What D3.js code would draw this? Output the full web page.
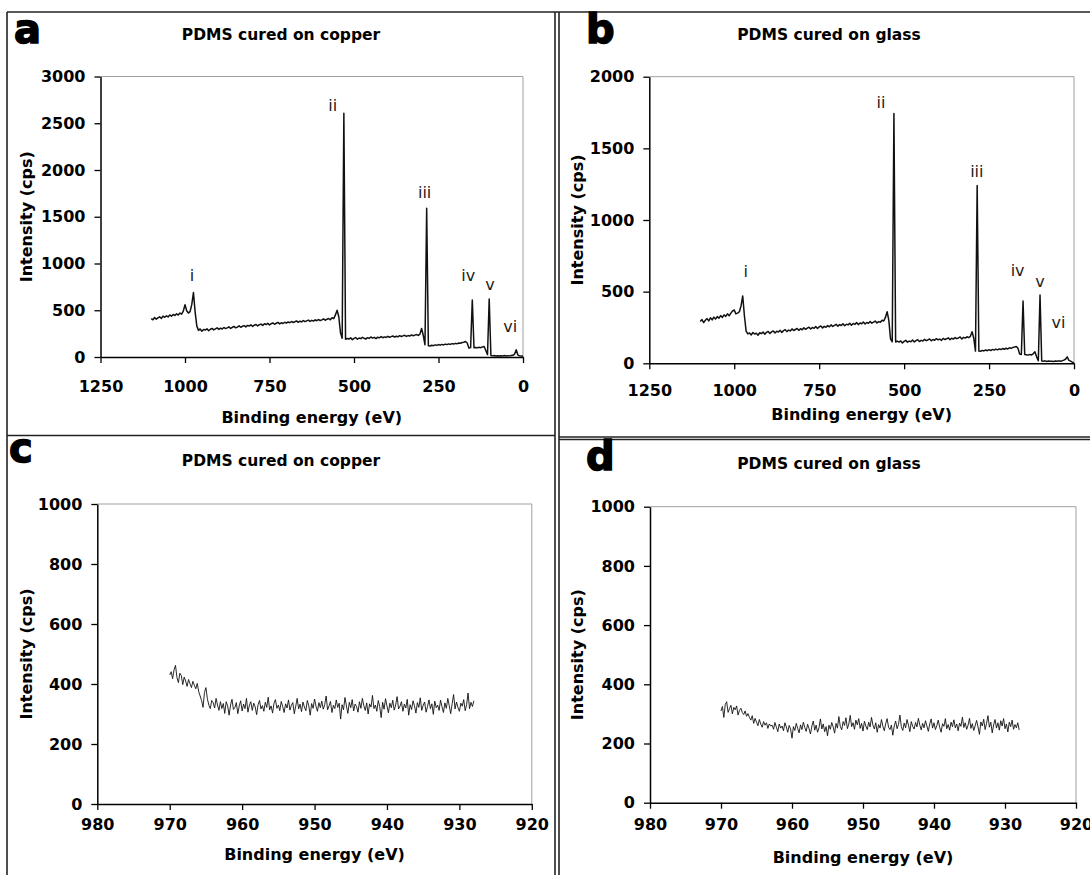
<!DOCTYPE html>
<html>
<head>
<meta charset="utf-8">
<script src="https://cdn.jsdelivr.net/npm/d3@7"></script>
<style>
body { margin: 0; background: #fff; }
text { font-family: "DejaVu Sans", Verdana, sans-serif; }
</style>
</head>
<body>
<div id="chart"></div>
<script>
// survey scans, 1100 eV down to 0 eV, one reading every 5 eV
var survey_start = 1100, survey_step = 5;
var copper_survey = [
  410, 398, 422, 405, 418, 430, 412, 437, 425, 441, 428, 450, 436, 455, 444, 462, 449, 470, 458,
  490, 560, 495, 470, 485, 560, 690, 480, 330, 285,
  300, 276, 295, 288, 302, 281, 297, 306, 290, 301,
  312, 295, 308, 299, 316, 304, 311, 322, 305, 318,
  327, 312, 320, 333, 318, 329, 336, 322, 338, 331,
  344, 326, 340, 348, 333, 345, 352, 338, 355, 347,
  360, 343, 356, 364, 350, 361, 370, 354, 366, 358,
  372, 362, 375, 366, 380, 369, 377, 386, 371, 383,
  375, 390, 378, 387, 395, 381, 392, 384, 398, 388,
  401, 390, 397, 408, 393, 404, 412, 398,
  420, 410, 450, 500, 430, 260, 200, 2606, 190, 198,
  192, 205, 186, 199, 208, 190, 203, 196, 211, 200,
  192, 207, 199, 214, 203, 210, 197, 212, 205, 218,
  206, 215, 209, 221, 211, 218, 225, 213, 222, 216,
  228, 219, 226, 232, 220, 229, 224, 236, 227, 234,
  240, 231, 245,
  305, 230, 130, 1590, 120,
  118, 126, 121, 130, 124, 133, 127, 135, 129, 138,
  132, 140, 135, 143, 138, 146, 141, 150, 147, 155, 158,
  165, 150, 95, 100, 610, 100,
  102, 98, 104, 100, 108, 112, 70, 25, 620, 15,
  12, 15, 11, 14, 10, 13, 12, 15, 11, 14, 12, 15, 18, 30,
  78, 20, 12, 10, 8
];
var glass_survey = [
  292, 305, 284, 300, 312, 296, 318, 303, 322, 309, 326, 315, 333, 320, 338, 327, 345, 332, 350,
  365, 372, 345, 350, 360, 400, 470, 330, 225, 205,
  212, 198, 215, 204, 210, 196, 213, 207, 218, 203,
  216, 222, 208, 219, 226, 212, 224, 218, 230, 215,
  228, 235, 221, 232, 226, 240, 229, 236, 243, 230,
  241, 234, 248, 237, 245, 252, 239, 250, 244, 256,
  243, 254, 260, 247, 258, 251, 263, 255, 268, 257,
  265, 272, 259, 270, 264, 276, 262, 273, 268, 280,
  266, 278, 271, 284, 270, 281, 276, 288, 274, 285,
  279, 292, 280, 287, 295, 282, 291, 286,
  300, 295, 320, 360, 300, 170, 150, 1744, 148, 155,
  148, 156, 142, 153, 160, 147, 155, 150, 162, 149,
  158, 165, 152, 160, 155, 167, 158, 163, 170, 157,
  166, 161, 172, 164, 169, 160, 174, 166, 171, 178,
  165, 175, 169, 180, 172, 177, 184, 170, 181, 176,
  185, 179, 188,
  220, 175, 85, 1240, 85,
  84, 90, 86, 93, 88, 95, 89, 97, 92, 99,
  94, 101, 96, 103, 98, 105, 100, 108, 104, 111, 113,
  118, 105, 65, 62, 435, 62,
  60, 57, 62, 58, 66, 80, 45, 18, 477, 16,
  15, 17, 13, 16, 14, 15, 13, 16, 14, 17, 15, 18, 22, 28,
  45, 20, 15, 8, 3
];

// high resolution scans, 970 eV down to 928 eV, one reading every 0.2 eV
var hires_start = 970, hires_step = 0.2;
var copper_hires = [
  430, 441, 418, 447, 462, 421, 405, 436, 428, 398, 423, 410, 392, 415, 401, 388, 409, 396, 384, 402, 375,
  360, 345, 322, 372, 388, 351, 330, 318, 345, 338, 320, 352, 330, 312, 341,
  318, 335, 302, 341, 327, 296, 330, 349, 315, 322, 338, 301, 327, 344, 310, 333, 318, 352, 306, 329, 341, 312, 336, 324, 298,
  331, 345, 317, 328, 309, 339, 322, 356, 314, 327, 303, 336, 348, 319, 330, 311, 342, 325, 305, 334, 320, 347, 313, 329, 338,
  301, 326, 352, 317, 333, 308, 340, 323, 311, 345, 328, 296, 335, 319, 350, 326, 309, 338, 321, 343, 316, 331, 360, 314, 327,
  342, 305, 329, 318, 347, 322, 336, 283, 331, 314, 355, 327, 302, 339, 321, 348, 310, 333, 325, 306, 341, 319, 352, 328, 312,
  337, 300, 334, 323, 362, 318, 330, 309, 345, 324, 288, 339, 316, 351, 327, 304, 336, 321, 346, 313, 330, 358, 317, 326, 341,
  309, 333, 320, 349, 296, 331, 315, 344, 327, 303, 338, 322, 354, 312, 329, 340, 306, 325, 347, 318, 334, 299, 343, 321, 330,
  312, 346, 324, 305, 337, 319, 352, 328, 301, 334, 365, 317, 340, 322, 309, 336, 326, 348, 311, 331, 370, 318, 339, 325, 344
];
var glass_hires = [
  310, 325, 288, 332, 341, 305, 318, 329, 300, 322, 314, 327, 296, 312, 319, 305, 298, 310, 292, 301, 288,
  279, 294, 268, 285, 272, 260, 281, 266, 255, 274, 262, 270, 251, 266, 259,
  262, 248, 271, 255, 240, 266, 252, 259, 243, 270, 256, 238, 261, 249, 218, 257, 244, 268, 251, 236, 263, 247, 272, 254, 241,
  265, 250, 232, 259, 276, 245, 262, 238, 253, 283, 249, 266, 240, 257, 226, 262, 248, 271, 256, 235, 268, 252, 291, 258, 246,
  274, 261, 287, 250, 266, 295, 257, 270, 248, 279, 263, 284, 251, 268, 242, 275, 259, 247, 272, 256, 288, 262, 249, 270, 238,
  264, 252, 281, 258, 243, 267, 284, 255, 247, 262, 228, 259, 276, 250, 265, 296, 257, 244, 269, 253, 281, 262, 240, 274, 258,
  249, 271, 256, 285, 262, 246, 268, 253, 277, 259, 241, 266, 283, 252, 270, 247, 261, 279, 255, 238, 267, 258, 284, 250, 264,
  245, 272, 257, 280, 253, 266, 243, 269, 258, 289, 254, 270, 248, 262, 285, 251, 267, 244, 260, 278, 256, 231, 273, 259, 282,
  247, 268, 294, 255, 272, 236, 263, 281, 252, 270, 245, 277, 259, 284, 250, 266, 239, 272, 257, 279, 248, 264, 253, 270, 246
];

// peak labels, placed in data units [eV, cps]
var peak_names = ["i", "ii", "iii", "iv", "v", "vi"];
var copper_peak_pos = [[979, 877], [563, 2695], [291, 1757], [162, 877], [98, 780], [38, 331]];
var glass_peak_pos = [[966, 639], [568, 1818], [286, 1337], [166, 645], [100, 570], [46, 284]];

var survey_xticks = [1250, 1000, 750, 500, 250, 0];
var hires_xticks = [980, 970, 960, 950, 940, 930, 920];
var copper_yticks = [0, 500, 1000, 1500, 2000, 2500, 3000];
var glass_yticks = [0, 500, 1000, 1500, 2000];
var hires_yticks = [0, 200, 400, 600, 800, 1000];

var titles = ["PDMS cured on copper", "PDMS cured on glass", "PDMS cured on copper", "PDMS cured on glass"];
var letters = ["a", "b", "c", "d"];

function toPoints(vals, start, step) {
  return vals.map(function(v, i) { return {e: +(start - i * step).toFixed(2), c: v}; });
}

var panels = [
  {letter: letters[0], title: titles[0], pts: toPoints(copper_survey, survey_start, survey_step),
   xdom: [1250, 0], xticks: survey_xticks, ydom: [0, 3000], yticks: copper_yticks,
   peaks: copper_peak_pos, box: {l: 100.5, r: 523, t: 76.5, b: 357},
   cx: 281, titleY: 40, letterX: 14, letterY: 43, xlabPad: 18, xtitleY: 423, ylabX: 26, lw: 1.5},
  {letter: letters[1], title: titles[1], pts: toPoints(glass_survey, survey_start, survey_step),
   xdom: [1250, 0], xticks: survey_xticks, ydom: [0, 2000], yticks: glass_yticks,
   peaks: glass_peak_pos, box: {l: 649.3, r: 1074, t: 76.7, b: 363.3},
   cx: 829, titleY: 40, letterX: 586, letterY: 43, xlabPad: 15, xtitleY: 420, ylabX: 577, lw: 1.5},
  {letter: letters[2], title: titles[2], pts: toPoints(copper_hires, hires_start, hires_step),
   xdom: [980, 920], xticks: hires_xticks, ydom: [0, 1000], yticks: hires_yticks,
   peaks: null, box: {l: 97.3, r: 531.8, t: 504, b: 804},
   cx: 281, titleY: 466, letterX: 9, letterY: 462, xlabPad: 9, xtitleY: 860, ylabX: 26, lw: 0.9},
  {letter: letters[3], title: titles[3], pts: toPoints(glass_hires, hires_start, hires_step),
   xdom: [980, 920], xticks: hires_xticks, ydom: [0, 1000], yticks: hires_yticks,
   peaks: null, box: {l: 650, r: 1076, t: 506.7, b: 802.7},
   cx: 829, titleY: 469, letterX: 586, letterY: 470, xlabPad: 10, xtitleY: 863, ylabX: 577, lw: 0.9}
];

var svg = d3.select("#chart").append("svg")
  .attr("width", 1090)
  .attr("height", 875)
  .style("display", "block");

svg.append("rect").attr("width", 1090).attr("height", 875).attr("fill", "#fff");

// frame lines between the four panels
var frameLines = [
  [7, 12, 1090, 12], [7, 12, 7, 875],
  [555, 12, 555, 875], [559, 12, 559, 875],
  [7, 435.5, 555, 435.5], [559, 437, 1090, 437], [559, 439.5, 1090, 439.5]
];
svg.selectAll(".frame")
  .data(frameLines)
  .enter().append("line")
  .attr("class", "frame")
  .attr("x1", function(d) { return d[0]; })
  .attr("y1", function(d) { return d[1]; })
  .attr("x2", function(d) { return d[2]; })
  .attr("y2", function(d) { return d[3]; })
  .attr("stroke", "#222")
  .attr("stroke-width", 1.6);

function drawPanel(p) {
  var g = svg.append("g");
  var x = d3.scaleLinear().domain(p.xdom).range([p.box.l, p.box.r]);
  var y = d3.scaleLinear().domain(p.ydom).range([p.box.b, p.box.t]);

  // light grey top and right edges of the plot area
  g.append("path")
    .attr("d", "M" + p.box.l + "," + p.box.t + "H" + p.box.r + "V" + p.box.b)
    .attr("fill", "none")
    .attr("stroke", "#a0a0a0")
    .attr("stroke-width", 1);

  var yAxis = g.append("g")
    .attr("transform", "translate(" + p.box.l + ",0)")
    .call(d3.axisLeft(y).tickValues(p.yticks).tickFormat(d3.format("d")).tickSize(6).tickPadding(9).tickSizeOuter(0));
  var xAxis = g.append("g")
    .attr("transform", "translate(0," + p.box.b + ")")
    .call(d3.axisBottom(x).tickValues(p.xticks).tickFormat(d3.format("d")).tickSize(6).tickPadding(p.xlabPad).tickSizeOuter(0));

  [xAxis, yAxis].forEach(function(a) {
    a.select(".domain").attr("stroke", "#000").attr("stroke-width", 1.5);
    a.selectAll(".tick line").attr("stroke", "#000").attr("stroke-width", 1.3);
    a.selectAll(".tick text")
      .attr("fill", "#000")
      .style("font-family", "'DejaVu Sans', Verdana, sans-serif")
      .style("font-size", "16px")
      .style("font-weight", "bold");
  });

  var line = d3.line()
    .x(function(d) { return x(d.e); })
    .y(function(d) { return y(d.c); });

  g.append("path")
    .datum(p.pts)
    .attr("d", line)
    .attr("fill", "none")
    .attr("stroke", "#111")
    .attr("stroke-width", p.lw)
    .attr("stroke-linejoin", "round");

  if (p.peaks) {
    g.selectAll(".peak")
      .data(p.peaks)
      .enter().append("text")
      .attr("class", "peak")
      .attr("x", function(d) { return x(d[0]); })
      .attr("y", function(d) { return y(d[1]); })
      .attr("dy", "0.35em")
      .attr("text-anchor", "middle")
      .attr("font-size", "16px")
      .attr("fill", "#222")
      .text(function(d, i) { return peak_names[i]; });
  }

  g.append("text")
    .attr("x", p.cx)
    .attr("y", p.titleY)
    .attr("text-anchor", "middle")
    .attr("font-size", "15.5px")
    .attr("font-weight", "bold")
    .text(p.title);

  g.append("text")
    .attr("x", (p.box.l + p.box.r) / 2)
    .attr("y", p.xtitleY)
    .attr("text-anchor", "middle")
    .attr("font-size", "16px")
    .attr("font-weight", "bold")
    .text("Binding energy (eV)");

  g.append("text")
    .attr("transform", "translate(" + p.ylabX + "," + (p.box.t + p.box.b) / 2 + ") rotate(-90)")
    .attr("dy", "0.35em")
    .attr("text-anchor", "middle")
    .attr("font-size", "16px")
    .attr("font-weight", "bold")
    .text("Intensity (cps)");

  g.append("text")
    .attr("x", p.letterX)
    .attr("y", p.letterY)
    .attr("font-size", "40px")
    .attr("font-weight", "bold")
    .attr("stroke", "#000")
    .attr("stroke-width", 1.5)
    .text(p.letter);
}

panels.forEach(drawPanel);
</script>
</body>
</html>
